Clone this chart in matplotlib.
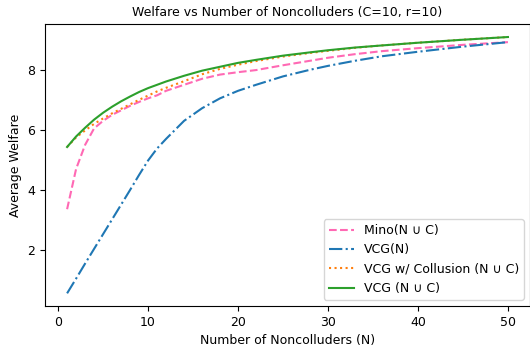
import matplotlib
matplotlib.use('Agg')
import matplotlib.pyplot as plt

# number of noncolluders sampled
n_vals = [1, 2, 3, 4, 5, 6, 7, 8, 9, 10, 11, 12, 14, 16, 18, 20, 22, 25, 28, 30, 33, 36, 40, 45, 50]

# welfare
mino = [3.36, 4.70, 5.50, 6.05, 6.30, 6.50, 6.65, 6.80, 6.93, 7.05, 7.15, 7.30, 7.50, 7.70, 7.84,
        7.92, 7.99, 8.15, 8.30, 8.40, 8.52, 8.62, 8.72, 8.83, 8.92]
vcg_n = [0.56, 1.05, 1.55, 2.04, 2.53, 3.02, 3.51, 4.00, 4.50, 4.98, 5.38, 5.70, 6.30, 6.72, 7.05,
         7.30, 7.50, 7.78, 8.00, 8.13, 8.30, 8.45, 8.60, 8.77, 8.92]
vcg_collusion = [5.43, 5.75, 5.98, 6.20, 6.38, 6.55, 6.70, 6.85, 7.00, 7.14, 7.28, 7.40, 7.62, 7.85, 8.03,
                 8.17, 8.29, 8.44, 8.56, 8.63, 8.73, 8.81, 8.90, 9.00, 9.09]
vcg_all = [5.43, 5.78, 6.07, 6.34, 6.57, 6.77, 6.95, 7.11, 7.26, 7.39, 7.50, 7.61, 7.80, 7.97, 8.10,
           8.23, 8.33, 8.47, 8.58, 8.65, 8.74, 8.81, 8.90, 9.00, 9.09]

fig = plt.figure(figsize=(5.3, 3.56), dpi=100)
ax = fig.add_axes([0.085, 0.14, 0.915, 0.792])

ax.plot(n_vals, mino, '--', color='hotpink', label='Mino(N \u222a C)')
ax.plot(n_vals, vcg_n, '-.', color='tab:blue', label='VCG(N)')
ax.plot(n_vals, vcg_collusion, ':', color='tab:orange', label='VCG w/ Collusion (N \u222a C)')
ax.plot(n_vals, vcg_all, '-', color='tab:green', label='VCG (N \u222a C)')

ax.set_title('Welfare vs Number of Noncolluders (C=10, r=10)', fontsize=9)
ax.set_xlabel('Number of Noncolluders (N)', fontsize=9)
ax.set_ylabel('Average Welfare', fontsize=9)
ax.tick_params(labelsize=9)
ax.set_yticks([2, 4, 6, 8])
ax.legend(loc='lower right', fontsize=9)

fig.savefig('out.png', dpi=100)
